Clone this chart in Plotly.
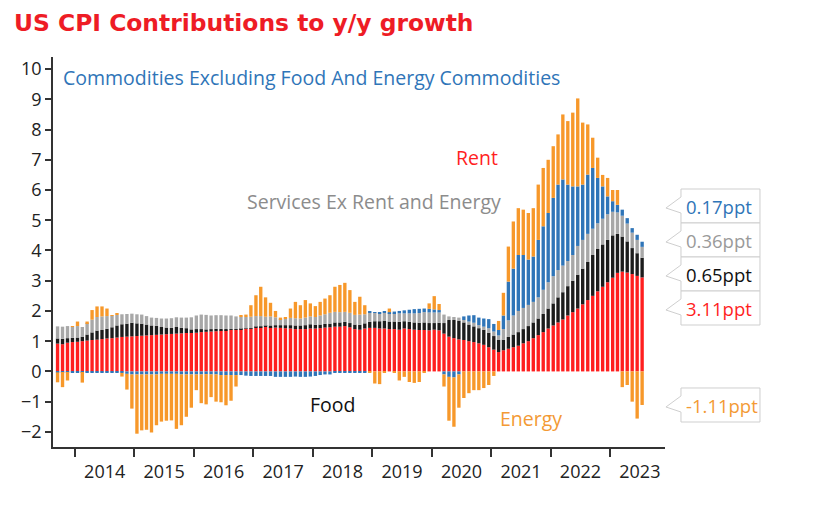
import plotly.graph_objects as go
import pandas as pd

# ---------------- data (monthly, Sep 2013 .. Jul 2023), ppt contributions ----------------
start_month = "2013-09-01"
n_months = 119

rent = [
    0.92, 0.90, 0.95, 0.97,                                                   # 2013 Sep-Dec
    0.98, 1.00, 1.02, 1.04, 1.05, 1.07, 1.09, 1.10, 1.12, 1.14, 1.15, 1.16,   # 2014
    1.17, 1.18, 1.19, 1.20, 1.21, 1.22, 1.23, 1.24, 1.25, 1.26, 1.27, 1.27,   # 2015
    1.28, 1.30, 1.31, 1.32, 1.33, 1.35, 1.36, 1.37, 1.38, 1.40, 1.41, 1.42,   # 2016
    1.45, 1.46, 1.47, 1.46, 1.45, 1.44, 1.43, 1.42, 1.40, 1.40, 1.40, 1.42,   # 2017
    1.42, 1.43, 1.45, 1.46, 1.48, 1.48, 1.50, 1.46, 1.40, 1.38, 1.42, 1.44,   # 2018
    1.44, 1.42, 1.42, 1.40, 1.40, 1.38, 1.42, 1.40, 1.38, 1.37, 1.37, 1.36,   # 2019
    1.38, 1.36, 1.25, 1.15, 1.10, 1.06, 1.04, 1.00, 0.97, 0.93, 0.88, 0.80,   # 2020
    0.72, 0.64, 0.70, 0.75, 0.80, 0.85, 0.93, 1.00, 1.10, 1.20, 1.30, 1.42,   # 2021
    1.52, 1.62, 1.72, 1.85, 1.96, 2.08, 2.22, 2.36, 2.50, 2.65, 2.80, 2.95,   # 2022
    3.10, 3.26, 3.30, 3.27, 3.22, 3.16, 3.11,                                 # 2023 Jan-Jul
]
food = [
    0.17, 0.18, 0.15, 0.14,
    0.14, 0.15, 0.20, 0.25, 0.30, 0.30, 0.32, 0.36, 0.40, 0.42, 0.43, 0.45,
    0.42, 0.40, 0.36, 0.32, 0.30, 0.25, 0.22, 0.20, 0.22, 0.18, 0.16, 0.12,
    0.12, 0.10, 0.08, 0.08, 0.08, 0.06, 0.04, 0.03, 0.02, 0.01, 0.01, 0.01,
    0.03, 0.03, 0.04, 0.06, 0.08, 0.09, 0.10, 0.11, 0.12, 0.12, 0.13, 0.14,
    0.12, 0.12, 0.12, 0.12, 0.14, 0.14, 0.14, 0.14, 0.15, 0.16, 0.17, 0.20,
    0.22, 0.24, 0.26, 0.25, 0.25, 0.26, 0.24, 0.24, 0.24, 0.24, 0.25, 0.24,
    0.22, 0.25, 0.35, 0.55, 0.60, 0.62, 0.58, 0.55, 0.52, 0.50, 0.50, 0.48,
    0.45, 0.40, 0.35, 0.39, 0.42, 0.45, 0.47, 0.50, 0.52, 0.55, 0.60, 0.66,
    0.73, 0.83, 0.90, 0.97, 1.04, 1.12, 1.18, 1.26, 1.35, 1.40, 1.40, 1.40,
    1.40, 1.29, 1.16, 1.03, 0.86, 0.75, 0.65,
]
services = [
    0.40, 0.40, 0.40, 0.36,
    0.38, 0.32, 0.38, 0.42, 0.45, 0.45, 0.42, 0.38, 0.35, 0.33, 0.32, 0.30,
    0.30, 0.30, 0.28, 0.26, 0.26, 0.28, 0.30, 0.32, 0.32, 0.34, 0.35, 0.40,
    0.45, 0.48, 0.48, 0.45, 0.45, 0.45, 0.45, 0.45, 0.42, 0.40, 0.38, 0.38,
    0.35, 0.34, 0.30, 0.30, 0.26, 0.20, 0.22, 0.24, 0.24, 0.23, 0.25, 0.26,
    0.26, 0.30, 0.32, 0.36, 0.35, 0.34, 0.33, 0.34, 0.32, 0.34, 0.30, 0.30,
    0.28, 0.26, 0.26, 0.28, 0.28, 0.28, 0.26, 0.28, 0.30, 0.32, 0.34, 0.35,
    0.35, 0.34, 0.28, 0.12, 0.10, 0.10, 0.08, 0.10, 0.12, 0.10, 0.10, 0.15,
    0.15, 0.15, 0.35, 0.55, 0.63, 0.70, 0.70, 0.70, 0.68, 0.70, 0.80, 0.87,
    0.90, 0.90, 0.88, 0.83, 0.85, 0.95, 0.95, 0.93, 0.87, 0.85, 0.85, 0.85,
    0.78, 0.71, 0.69, 0.59, 0.51, 0.44, 0.36,
]
commodities = [
    -0.03, -0.02, -0.02, -0.03,
    -0.02, -0.02, -0.02, -0.02, -0.02, -0.02, -0.02, -0.03, -0.04, -0.05, -0.08, -0.10,
    -0.10, -0.10, -0.10, -0.10, -0.10, -0.08, -0.08, -0.08, -0.08, -0.10, -0.10, -0.10,
    -0.10, -0.10, -0.09, -0.10, -0.10, -0.12, -0.12, -0.12, -0.12, -0.12, -0.14, -0.15,
    -0.15, -0.15, -0.15, -0.15, -0.18, -0.18, -0.18, -0.18, -0.17, -0.18, -0.18, -0.17,
    -0.15, -0.12, -0.10, -0.10, -0.05, -0.05, -0.04, -0.02, -0.02, -0.03, -0.02, 0.04,
    0.02, 0.02, 0.03, 0.03, 0.05, 0.08, 0.10, 0.12, 0.14, 0.14, 0.12, 0.12,
    0.10, 0.08, -0.10, -0.18, -0.20, -0.10, 0.12, 0.20, 0.25, 0.25, 0.27, 0.30,
    0.25, 0.18, 0.45, 1.28, 1.55, 1.85, 1.75, 1.50, 1.50, 1.90, 2.10, 2.29,
    2.59, 2.83, 2.85, 2.53, 2.27, 1.97, 1.83, 1.96, 2.01, 1.50, 1.07, 0.59,
    0.35, 0.25, 0.20, 0.18, 0.15, 0.17, 0.17,
]
energy = [
    -0.33, -0.50, -0.28, 0.03,
    0.15, -0.35, 0.05, 0.32, 0.35, 0.33, 0.25, 0.02, 0.05, -0.12, -0.52, -1.13,
    -1.96, -1.85, -1.83, -1.92, -1.68, -1.58, -1.55, -1.54, -1.82, -1.68, -1.40, -1.10,
    -0.52, -0.95, -1.00, -0.75, -0.90, -0.90, -1.00, -0.85, -0.38, 0.03, 0.08, 0.38,
    0.69, 0.97, 0.64, 0.45, 0.21, 0.05, 0.05, 0.31, 0.54, 0.44, 0.58, 0.43,
    0.36, 0.45, 0.52, 0.58, 0.83, 0.90, 0.96, 0.75, 0.43, 0.59, 0.30, -0.02,
    -0.40, -0.42, -0.05, 0.12, -0.05, -0.30, -0.18, -0.35, -0.38, -0.35, -0.05, 0.18,
    0.44, 0.20, -0.40, -1.45, -1.63, -1.10, -0.88, -0.72, -0.62, -0.62, -0.55, -0.45,
    -0.15, 0.30, 0.75, 1.16, 1.56, 1.55, 1.50, 1.54, 1.60, 1.83, 1.93, 1.76,
    1.71, 1.66, 2.15, 2.10, 2.44, 2.91, 2.05, 1.66, 1.00, 0.67, 0.38, 0.61,
    0.37, 0.49, -0.52, -0.45, -1.00, -1.56, -1.11,
]

latest_labels = ["0.17ppt", "0.36ppt", "0.65ppt", "3.11ppt", "-1.11ppt"]
y_ticks = list(range(-2, 11))

# ---------------- styling ----------------
RED = "#ff1f1f"
BLACK = "#1c1c1c"
GRAY = "#a8a8a8"
BLUE = "#2f75b8"
ORANGE = "#f7982a"
FONT = "Open Sans"

months = pd.date_range(start_month, periods=n_months, freq="MS")

fig = go.Figure()
series = [
    ("Rent", rent, RED),
    ("Food", food, BLACK),
    ("Services Ex Rent and Energy", services, GRAY),
    ("Commodities Excluding Food And Energy Commodities", commodities, BLUE),
    ("Energy", energy, ORANGE),
]
for name, vals, col in series:
    fig.add_trace(go.Bar(
        x=months, y=vals, name=name, marker_color=col, marker_line_width=0,
        xperiod="M1", xperiodalignment="middle",
    ))

# plot area in pixels: x 53..665, y 57..447
L, R, T, B = 53, 665, 57, 447
W, H = 814, 515
def px(x):
    return (x - L) / (R - L)
def py(y):
    return (B - y) / (B - T)

fig.update_layout(
    width=W, height=H,
    margin=dict(l=L, r=W - R, t=T, b=H - B),
    paper_bgcolor="white", plot_bgcolor="white",
    barmode="relative", bargap=0.3,
    showlegend=False,
    font=dict(family=FONT, color="#222222", size=16),
)
fig.update_xaxes(
    type="date", range=["2013-08-19", "2023-12-04"],
    tick0="2014-01-01", dtick="M12", tickformat="%Y", ticklabelmode="period",
    ticks="outside", ticklen=8, tickwidth=1.5, tickcolor="#333333",
    showline=True, linecolor="#333333", linewidth=1.5,
    showgrid=False, zeroline=False,
    tickfont=dict(size=18, color="#222222"),
)
fig.update_yaxes(
    range=[-2.5, 10.4], tickvals=y_ticks,
    ticks="outside", ticklen=6, tickwidth=1.5, tickcolor="#333333",
    showline=True, linecolor="#333333", linewidth=1.5,
    showgrid=False, zeroline=False,
    tickfont=dict(size=18, color="#222222"),
)

ann = []
# title
ann.append(dict(text="<b>US CPI Contributions to y/y growth</b>", xref="paper", yref="paper",
                x=px(12), y=py(23), xanchor="left", yanchor="middle", showarrow=False,
                font=dict(family="DejaVu Sans", size=23.4, color="#ee1c25")))
# series labels
labels = [
    ("Commodities Excluding Food And Energy Commodities", 61, 77, "left", BLUE),
    ("Rent", 477, 157, "center", "#ff1f1f"),
    ("Services Ex Rent and Energy", 374, 201, "center", "#8c8c8c"),
    ("Food", 332, 404, "center", "#111111"),
    ("Energy", 531, 418, "center", "#f39a35"),
]
for t, x, y, xa, c in labels:
    ann.append(dict(text=t, xref="paper", yref="paper", x=px(x), y=py(y),
                    xanchor=xa, yanchor="middle", showarrow=False,
                    font=dict(size=19.5, color=c)))

# callout boxes
box_tops = [189, 223, 257, 291, 388]
box_h = 34
box_cols = [BLUE, "#9a9a9a", "#111111", "#ff1f1f", "#f39a35"]
shapes = []
for lab, top, c in zip(latest_labels, box_tops, box_cols):
    bx0, bx1 = 681, 760
    tip = (666, top + 19)
    pts = [(bx0, top), (bx1, top), (bx1, top + box_h), (bx0, top + box_h),
           (bx0, top + 24), tip, (bx0, top + 8)]
    path = "M " + " L ".join(f"{px(a):.4f},{py(b):.4f}" for a, b in pts) + " Z"
    shapes.append(dict(type="path", path=path, xref="paper", yref="paper",
                       line=dict(color="#cfcfcf", width=1), fillcolor="white",
                       layer="above"))
    ann.append(dict(text=lab, xref="paper", yref="paper", x=px(684), y=py(top + box_h / 2),
                    xanchor="left", yanchor="middle", showarrow=False,
                    font=dict(size=18.5, color=c)))

fig.update_layout(annotations=ann, shapes=shapes)

fig.write_html("out.html", config={"displayModeBar": False},
               post_script="document.body.style.margin='0';")
